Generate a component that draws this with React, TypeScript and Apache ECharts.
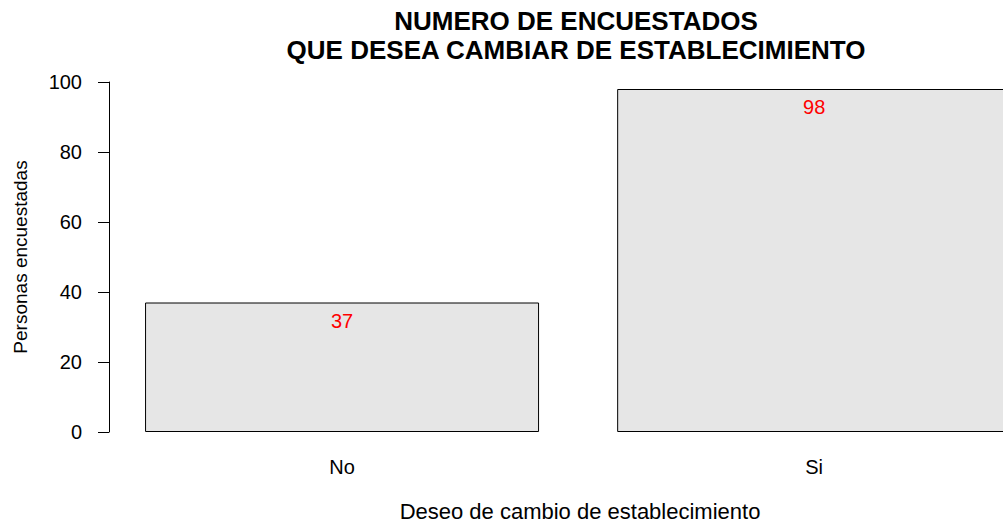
import React, { useEffect, useRef } from "react";
import * as echarts from "echarts";

const titleLines = ["NUMERO DE ENCUESTADOS", "QUE DESEA CAMBIAR DE ESTABLECIMIENTO"];
const categories = ["No", "Si"];
const values = [37, 98];
const yTicks = [0, 20, 40, 60, 80, 100];
const xName = "Deseo de cambio de establecimiento";
const yName = "Personas encuestadas";

const FONT = "'Liberation Sans', Arial, Helvetica, sans-serif";

export default function App() {
  const ref = useRef<HTMLDivElement>(null);
  useEffect(() => {
    if (!ref.current) return;
    const chart = echarts.init(ref.current, undefined, { renderer: "svg" });
    const seriesData = values.map((v, i) => [i, v]);
    chart.setOption({
      animation: false,
      backgroundColor: "#ffffff",
      textStyle: { fontFamily: FONT },
      grid: { left: 106, top: 82, width: 897, height: 350, containLabel: false },
      xAxis: {
        type: "value",
        min: -0.5,
        max: 1.4,
        axisLine: { show: false, onZero: false },
        axisTick: { show: false },
        splitLine: { show: false },
        axisLabel: {
          fontSize: 20,
          color: "#000",
          margin: 25,
          fontFamily: FONT,
          customValues: categories.map((_, i) => i),
          formatter: (v: number) => categories[Math.round(v)] ?? "",
        },
      },
      yAxis: {
        type: "value",
        min: yTicks[0],
        max: yTicks[yTicks.length - 1],
        interval: yTicks[1] - yTicks[0],
        offset: -3,
        axisLine: { show: true, onZero: false, lineStyle: { color: "#000", width: 1 } },
        axisTick: { show: true, inside: false, length: 11, lineStyle: { color: "#000", width: 1 } },
        splitLine: { show: false },
        axisLabel: { fontSize: 20, color: "#000", margin: 27, fontFamily: FONT },
      },
      series: [
        {
          type: "bar",
          data: seriesData,
          barWidth: 394,
          itemStyle: { color: "#e6e6e6", borderColor: "#000", borderWidth: 1 },
          label: {
            show: true,
            position: "insideTop",
            distance: 8,
            color: "#ff0000",
            fontSize: 20,
            fontFamily: FONT,
            formatter: (p: any) => String(p.value[1]),
          },
        },
      ],
      graphic: [
        {
          type: "text",
          x: 576,
          y: 21,
          style: {
            text: titleLines[0],
            fontSize: 26,
            fontWeight: "bold",
            fontFamily: FONT,
            fill: "#000",
            textAlign: "center",
            textVerticalAlign: "middle",
          },
        },
        {
          type: "text",
          x: 576,
          y: 50,
          style: {
            text: titleLines[1],
            fontSize: 26,
            fontWeight: "bold",
            fontFamily: FONT,
            fill: "#000",
            textAlign: "center",
            textVerticalAlign: "middle",
          },
        },
        {
          type: "text",
          x: 580,
          y: 511,
          style: {
            text: xName,
            fontSize: 22,
            fontFamily: FONT,
            fill: "#000",
            textAlign: "center",
            textVerticalAlign: "middle",
          },
        },
        {
          type: "text",
          x: 20,
          y: 257,
          rotation: Math.PI / 2,
          style: {
            text: yName,
            fontSize: 19,
            fontFamily: FONT,
            fill: "#000",
            textAlign: "center",
            textVerticalAlign: "middle",
          },
        },
      ],
    });
    return () => chart.dispose();
  }, []);
  return (
    <div
      ref={ref}
      style={{ position: "fixed", left: 0, top: 0, width: 1003, height: 522, background: "#fff" }}
    />
  );
}
